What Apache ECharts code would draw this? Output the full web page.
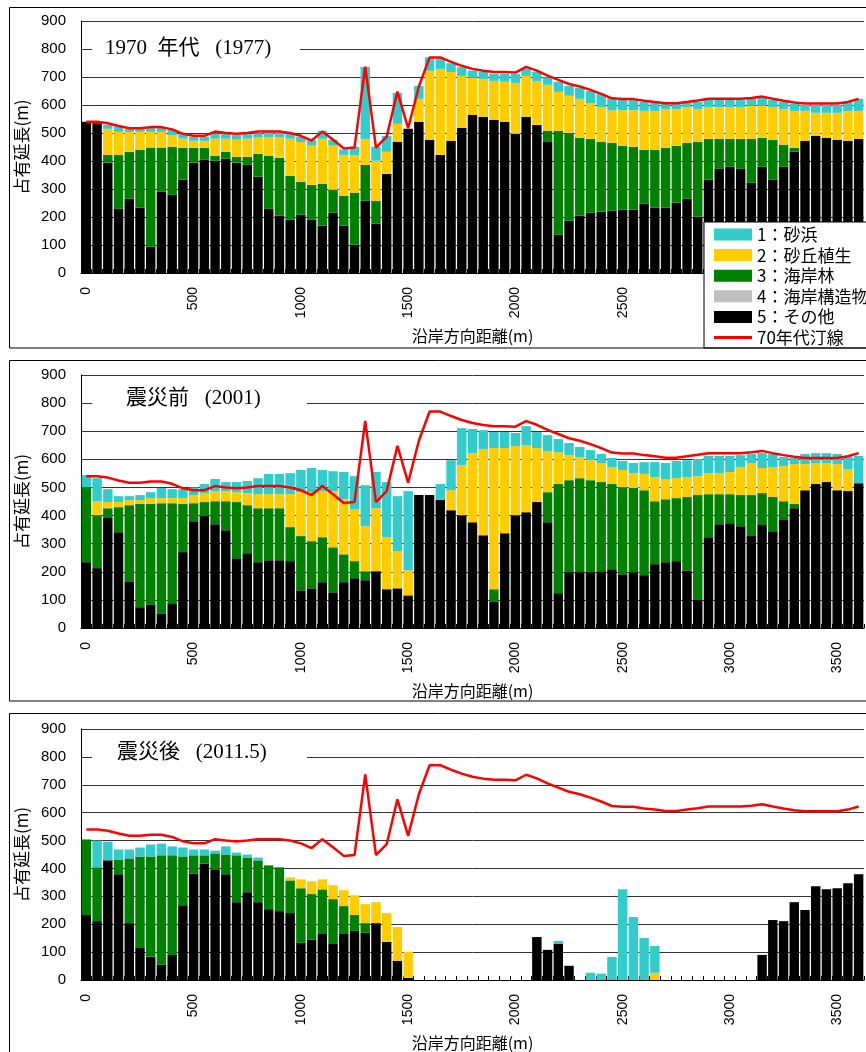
<!DOCTYPE html>
<html><head><meta charset="utf-8">
<script src="https://cdn.jsdelivr.net/npm/echarts@6/dist/echarts.min.js"></script>
<style>html,body{margin:0;padding:0;background:#fff}#c{width:866px;height:1052px}</style>
</head><body><div id="c"></div>
<script>
// ---- categories (alongshore distance, m) ----
const distances = [0,50,100,150,200,250,300,350,400,450,500,550,600,650,700,750,800,850,900,950,
1000,1050,1100,1150,1200,1250,1300,1350,1400,1450,1500,1550,1600,1650,1700,1750,1800,1850,1900,1950,
2000,2050,2100,2150,2200,2250,2300,2350,2400,2450,2500,2550,2600,2650,2700,2750,2800,2850,2900,2950,
3000,3050,3100,3150,3200,3250,3300,3350,3400,3450,3500,3550,3600];

// ---- 1970s shoreline (red line) ----
const shoreline70s = [540,540,535,525,517,517,521,521,513,497, 490,490,505,500,497,500,505,505,505,500,
490,473,505,476,445,448,737,448,487,648, 517,666,770,770,754,740,729,722,718,718,
716,736,723,705,690,675,666,654,640,624, 621,621,615,611,606,606,611,616,622,622,
622,622,625,630,622,615,609,605,605,605, 605,611,622];

// ---- structures (none in any period) ----
const noStructures = [0,0,0,0,0,0,0,0,0,0, 0,0,0,0,0,0,0,0,0,0, 0,0,0,0,0,0,0,0,0,0, 0,0,0,0,0,0,0,0,0,0,
0,0,0,0,0,0,0,0,0,0, 0,0,0,0,0,0,0,0,0,0, 0,0,0,0,0,0,0,0,0,0, 0,0,0];

// ---- 1970s (1977) ----
const other1977 = [540,535,394,229,265,233,94,290,279,333, 394,404,401,408,394,386,344,229,205,190,
208,190,169,215,169,101,258,176,354,468, 515,540,476,422,472,518,565,558,547,540,
497,558,529,468,137,187,205,215,219,222, 226,226,247,233,233,251,265,201,333,372,
379,372,322,379,333,379,433,472,490,483, 476,472,479];
const forest1977 = [0,0,28,193,168,207,354,158,172,114, 53,43,18,25,21,29,82,190,206,157,
118,125,150,82,107,186,128,82,0,0, 0,0,0,0,0,0,0,0,0,0,
0,0,0,40,371,314,278,264,249,243, 228,225,193,207,214,203,200,267,146,107,
100,107,157,104,143,79,14,0,0,0, 0,0,0];
const dune1977 = [0,0,93,82,71,64,56,56,42,33, 25,25,61,47,61,65,58,65,73,133,
142,140,160,158,146,133,93,143,79,65, 0,82,246,307,246,186,132,135,139,143,
182,146,157,164,139,132,139,128,125,116, 127,130,139,139,139,132,128,118,114,114,
114,114,118,114,117,128,132,107,82,89, 96,107,100];
const beach1977 = [0,0,14,19,10,10,18,18,19,16, 15,15,18,18,17,16,15,19,19,18,
19,19,29,21,19,31,257,50,57,110, 0,46,48,37,31,31,26,25,25,28,
32,26,33,27,36,35,39,43,47,47, 37,37,32,29,22,18,15,25,25,25,
25,25,25,28,25,25,25,21,28,28, 28,32,43];

// ---- before the earthquake (2001) ----
const other2001 = [234,213,391,341,166,74,84,52,88,270, 380,398,369,348,248,266,234,241,241,238,
134,141,163,127,163,177,170,202,138,141, 116,473,473,455,419,401,376,330,95,337,
401,412,448,376,124,198,198,198,202,209, 191,198,188,227,234,238,205,102,323,369,
373,362,327,366,344,384,426,490,512,519, 490,487,515];
const forest2001 = [267,188,35,89,271,367,357,392,356,171, 64,50,82,103,200,171,192,185,185,121,
193,168,160,160,99,61,32,0,0,0, 0,0,0,0,0,0,0,0,43,0,
0,0,0,107,388,328,335,328,317,303, 310,300,302,224,224,224,261,371,153,107,
103,111,146,114,122,67,15,0,0,0, 0,0,0];
const dune2001 = [0,50,22,18,18,14,21,18,18,21, 29,32,36,36,35,43,50,50,50,117,
156,174,164,200,196,185,160,224,185,132, 89,0,0,0,71,179,246,307,502,303,
246,239,192,146,113,89,75,71,68,60, 61,53,58,86,72,71,71,67,75,75,
79,99,114,89,106,125,142,93,75,68, 93,78,0];
const beach2001 = [43,82,46,21,14,18,21,36,32,32, 27,32,43,32,36,43,57,72,72,75,
79,86,75,71,97,117,146,129,196,196, 282,0,0,57,107,131,86,67,57,57,
47,67,57,57,47,43,36,36,32,33, 32,36,42,53,57,61,60,61,61,61,
57,43,32,53,47,32,22,36,35,35, 36,43,97];

// ---- after the earthquake (2011.5) ----
const other2011 = [233,211,429,379,204,115,83,55,90,268, 382,418,397,379,279,315,279,254,247,240,
133,144,165,129,165,176,169,204,137,69, 8,0,0,0,0,0,0,0,0,0,
0,0,154,108,129,51,0,0,0,0, 0,0,0,0,0,0,0,0,0,0,
0,0,0,90,215,211,279,251,336,325, 329,347,379];
const forest2011 = [271,193,0,53,232,328,360,392,357,175, 65,29,57,71,168,124,150,157,157,117,
196,164,160,161,100,57,35,0,0,0, 0,0,0,0,0,0,0,0,0,0,
0,0,0,0,0,0,0,0,0,0, 0,0,0,0,0,0,0,0,0,0,
0,0,0,0,0,0,0,0,0,0, 0,0,0];
const dune2011 = [0,0,0,0,0,0,0,0,0,0, 0,0,0,0,0,0,0,0,0,11,
32,46,36,50,57,71,68,75,103,121, 93,0,0,0,0,0,0,0,0,0,
0,0,0,0,0,0,0,0,0,0, 0,0,0,26,0,0,0,0,0,0,
0,0,0,0,0,0,0,0,0,0, 0,0,0];
const beach2011 = [0,96,67,36,32,32,43,42,32,32, 21,21,10,29,10,11,10,0,0,0,
0,0,0,0,0,0,0,0,0,0, 0,0,0,0,0,0,0,0,0,0,
0,0,0,0,11,0,0,26,23,83, 325,226,151,96,0,0,0,0,0,0,
0,0,0,0,0,0,0,0,0,0, 0,0,0];

const seriesNames = ['1：砂浜','2：砂丘植生','3：海岸林','4：海岸構造物','5：その他'];
const lineName = '70年代汀線';
const yTicks = {min:0, max:900, interval:100};

const COLORS = {beach:'#33CCCC', dune:'#FFCC00', forest:'#008000', structure:'#C0C0C0', other:'#000000', line:'#FF0000'};
const JP = '"Noto Sans CJK JP", sans-serif';
const NUM = '"Liberation Sans", Arial, sans-serif';
const SERIF = '"Liberation Serif", "Noto Sans CJK JP", serif';

const panels = [
  {title:'1970  年代   (1977)', titleX:105, titleY:48, boxRight:300, top:21, height:252, frameTop:7.5, frameH:340.5,
   beach:beach1977, dune:dune1977, forest:forest1977, structure:noStructures, other:other1977},
  {title:'震災前   (2001)', titleX:126, titleY:398, boxRight:307, top:375, height:253, frameTop:360.5, frameH:340.5,
   beach:beach2001, dune:dune2001, forest:forest2001, structure:noStructures, other:other2001},
  {title:'震災後   (2011.5)', titleX:117, titleY:752, boxRight:307, top:729, height:252, frameTop:713.5, frameH:400,
   beach:beach2011, dune:dune2011, forest:forest2011, structure:noStructures, other:other2011}
];

const grid=[], xAxis=[], yAxis=[], series=[], graphic=[];
panels.forEach((p,k)=>{
  grid.push({left:81, right:2, top:p.top, height:p.height, containLabel:false});
  xAxis.push({
    type:'category', gridIndex:k, data:distances.map(String), boundaryGap:true,
    axisLine:{show:true, lineStyle:{color:'#000', width:1}},
    axisTick:{show:true, inside:true, length:4, interval:0, lineStyle:{color:'#000'}},
    axisLabel:{interval:9, rotate:90, fontSize:14, fontFamily:NUM, color:'#000', margin:14},
    splitLine:{show:false},
    name:'沿岸方向距離(m)', nameLocation:'middle', nameGap:55,
    nameTextStyle:{fontSize:16, fontFamily:JP, color:'#000'}
  });
  yAxis.push({
    type:'value', gridIndex:k, min:yTicks.min, max:yTicks.max, interval:yTicks.interval,
    axisLine:{show:true, lineStyle:{color:'#000', width:1}},
    axisTick:{show:false},
    axisLabel:{fontSize:15, fontFamily:NUM, color:'#000', margin:15},
    splitLine:{show:true, lineStyle:{color:'#333', width:1}},
    name:'占有延長(m)', nameLocation:'middle', nameGap:50,
    nameTextStyle:{fontSize:17, fontFamily:JP, color:'#000'}
  });
  const stackId = 'p'+k;
  const order = [
    [seriesNames[4], p.other, COLORS.other],
    [seriesNames[3], p.structure, COLORS.structure],
    [seriesNames[2], p.forest, COLORS.forest],
    [seriesNames[1], p.dune, COLORS.dune],
    [seriesNames[0], p.beach, COLORS.beach]
  ];
  order.forEach(([name,data,color])=>{
    series.push({type:'bar', name, xAxisIndex:k, yAxisIndex:k, stack:stackId, data,
      barCategoryGap:'12%', itemStyle:{color}, emphasis:{disabled:true}, z:2});
  });
  series.push({type:'line', name:lineName, xAxisIndex:k, yAxisIndex:k, data:shoreline70s,
    symbol:'none', lineStyle:{color:COLORS.line, width:2.5}, itemStyle:{color:COLORS.line},
    emphasis:{disabled:true}, z:5});

  graphic.push({type:'rect', silent:true, z:100,
    shape:{x:9.5, y:p.frameTop, width:900, height:p.frameH},
    style:{fill:'none', stroke:'#000', lineWidth:1}});
  graphic.push({type:'rect', silent:true, z:50,
    shape:{x:92, y:p.titleY-11, width:p.boxRight-92, height:22},
    style:{fill:'#fff'}});
  graphic.push({type:'text', silent:true, z:51, x:p.titleX, y:p.titleY,
    style:{text:p.title, font:'21px '+SERIF, fill:'#000', verticalAlign:'middle', align:'left'}});
});

const legendData = seriesNames.map(n=>({name:n, icon:'rect'}))
  .concat([{name:lineName, icon:'path://M0,0L38,0L38,3L0,3Z'}]);

const chart = echarts.init(document.getElementById('c'), null, {renderer:'canvas'});
chart.setOption({
  backgroundColor:'#fff',
  animation:false,
  grid, xAxis, yAxis, series, graphic,
  legend:{
    data:legendData, orient:'vertical', left:704, top:222,
    padding:[4,40,2,10], itemWidth:38, itemHeight:12, itemGap:3.6,
    symbolKeepAspect:true,
    backgroundColor:'#fff', borderColor:'#000', borderWidth:1, borderRadius:0,
    textStyle:{fontSize:17, fontFamily:JP, color:'#000'}, z:10, selectedMode:true
  }
});
</script></body></html>
